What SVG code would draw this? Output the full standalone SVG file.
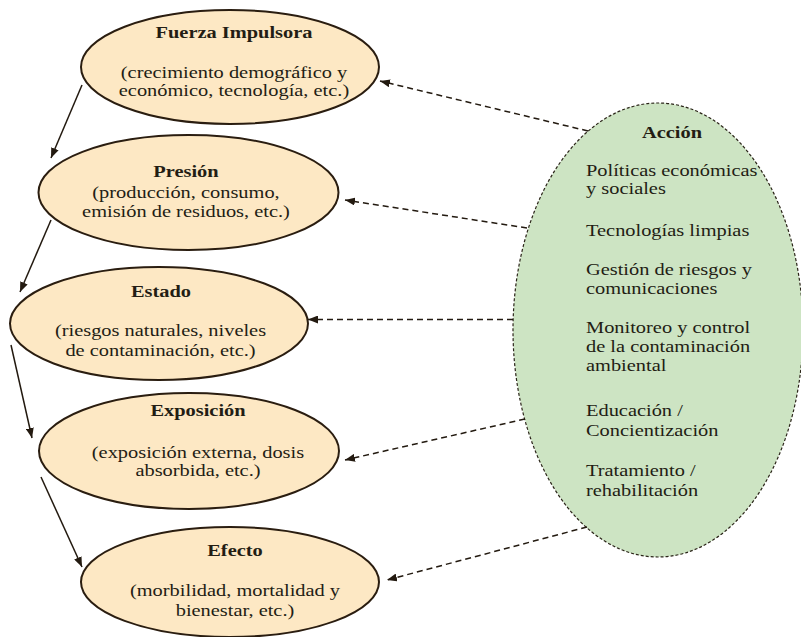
<svg xmlns="http://www.w3.org/2000/svg" width="801" height="637" viewBox="0 0 801 637">
<style>
.node{fill:#fde8c4;stroke:#2a1d10;stroke-width:2}
.act{fill:#cde4c3;stroke:#2a2418;stroke-width:1.2;stroke-dasharray:3 2}
text{font-family:"Liberation Serif","Times New Roman",serif;font-size:17px;fill:#231d14}
.b{font-weight:bold}
.c{text-anchor:middle}
.solid{stroke:#231a10;stroke-width:1.5;fill:none;marker-end:url(#ah)}
.dash{stroke:#231a10;stroke-width:1.5;fill:none;stroke-dasharray:6 4;marker-end:url(#ah)}
</style>
<defs>
<marker id="ah" viewBox="0 0 10 8" refX="10" refY="4" markerWidth="10" markerHeight="8" markerUnits="userSpaceOnUse" orient="auto">
<path d="M0,0 L10,4 L0,8 z" fill="#231a10"/>
</marker>
</defs>
<rect width="801" height="637" fill="#ffffff"/>
<g id="accion">
<ellipse class="act" cx="658" cy="330" rx="145" ry="227"/>
<text class="b c" transform="matrix(1.2 0 0 1 672 138)">Acción</text>
<text transform="matrix(1.2 0 0 1 586 0)"><tspan x="0" y="176">Políticas económicas</tspan><tspan x="0" y="194">y sociales</tspan><tspan x="0" y="236">Tecnologías limpias</tspan><tspan x="0" y="275">Gestión de riesgos y</tspan><tspan x="0" y="294">comunicaciones</tspan><tspan x="0" y="333">Monitoreo y control</tspan><tspan x="0" y="352">de la contaminación</tspan><tspan x="0" y="371">ambiental</tspan><tspan x="0" y="416">Educación /</tspan><tspan x="0" y="436">Concientización</tspan><tspan x="0" y="476">Tratamiento /</tspan><tspan x="0" y="496">rehabilitación</tspan></text>
</g>
<g id="fuerza">
<ellipse class="node" cx="230" cy="67" rx="149" ry="57"/>
<text class="b c" transform="matrix(1.2 0 0 1 234 38)">Fuerza Impulsora</text>
<text class="c" transform="matrix(1.2 0 0 1 234 0)"><tspan x="0" y="78">(crecimiento demográfico y</tspan><tspan x="0" y="96">económico, tecnología, etc.)</tspan></text>
</g>
<g id="presion">
<ellipse class="node" cx="188.5" cy="192.5" rx="150" ry="57.5"/>
<text class="b c" transform="matrix(1.2 0 0 1 186 177)">Presión</text>
<text class="c" transform="matrix(1.2 0 0 1 186 0)"><tspan x="0" y="198">(producción, consumo,</tspan><tspan x="0" y="217">emisión de residuos, etc.)</tspan></text>
</g>
<g id="estado">
<ellipse class="node" cx="159" cy="323.5" rx="149" ry="56.5"/>
<text class="b c" transform="matrix(1.2 0 0 1 161 297)">Estado</text>
<text class="c" transform="matrix(1.2 0 0 1 160.5 0)"><tspan x="0" y="336">(riesgos naturales, niveles</tspan><tspan x="0" y="356">de contaminación, etc.)</tspan></text>
</g>
<g id="exposicion">
<ellipse class="node" cx="189" cy="451" rx="150" ry="58"/>
<text class="b c" transform="matrix(1.2 0 0 1 198 416)">Exposición</text>
<text class="c" transform="matrix(1.2 0 0 1 198 0)"><tspan x="0" y="458">(exposición externa, dosis</tspan><tspan x="0" y="476">absorbida, etc.)</tspan></text>
</g>
<g id="efecto">
<ellipse class="node" cx="230" cy="582" rx="149" ry="55"/>
<text class="b c" transform="matrix(1.2 0 0 1 235 556)">Efecto</text>
<text class="c" transform="matrix(1.2 0 0 1 235 0)"><tspan x="0" y="596">(morbilidad, mortalidad y</tspan><tspan x="0" y="616">bienestar, etc.)</tspan></text>
</g>
<g id="connectors">
<line class="solid" x1="82" y1="85" x2="51" y2="158"/>
<line class="solid" x1="51" y1="220" x2="20" y2="292"/>
<line class="solid" x1="11" y1="345" x2="32" y2="438"/>
<line class="solid" x1="41" y1="477" x2="82" y2="567"/>
<line class="dash" x1="588" y1="131" x2="380" y2="81"/>
<line class="dash" x1="527" y1="228" x2="345" y2="200"/>
<line class="dash" x1="513" y1="319.5" x2="308" y2="319.5"/>
<line class="dash" x1="525" y1="419" x2="345" y2="460"/>
<line class="dash" x1="587" y1="527" x2="387" y2="580"/>
</g>
</svg>
